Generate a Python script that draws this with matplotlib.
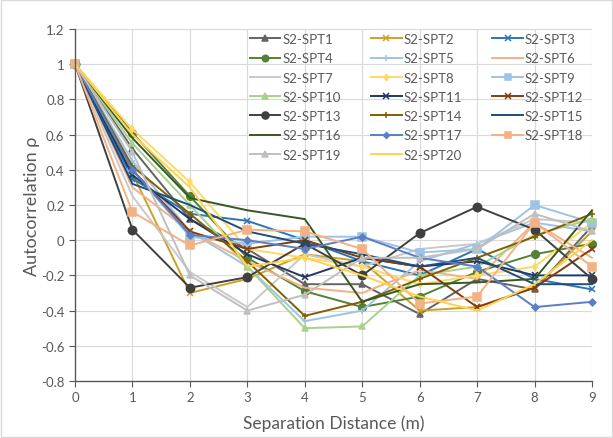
import matplotlib
matplotlib.use("Agg")
import matplotlib.pyplot as plt
from matplotlib.ticker import FuncFormatter, MultipleLocator
from matplotlib.patches import Rectangle

distance = [0, 1, 2, 3, 4, 5, 6, 7, 8, 9]
names = [f"S2-SPT{i}" for i in range(1, 21)]

spt1 = [1, 0.52, 0.12, -0.05, -0.25, -0.25, -0.42, -0.22, -0.28, 0.08]
spt2 = [1, 0.38, -0.30, -0.22, -0.08, -0.12, -0.40, -0.38, -0.27, 0.05]
spt3 = [1, 0.35, 0.15, 0.11, 0.00, -0.12, -0.20, -0.05, -0.22, -0.28]
spt4 = [1, 0.61, 0.25, -0.10, -0.29, -0.38, -0.32, -0.18, -0.08, -0.02]
spt5 = [1, 0.45, 0.05, -0.15, -0.46, -0.40, -0.12, -0.02, 0.10, 0.05]
spt6 = [1, 0.30, 0.05, -0.12, -0.27, -0.30, -0.17, -0.22, 0.10, -0.10]
spt7 = [1, 0.25, -0.18, -0.38, -0.08, -0.15, -0.05, -0.02, 0.12, 0.10]
spt8 = [1, 0.63, 0.33, -0.05, -0.10, -0.15, -0.25, -0.20, -0.15, 0.10]
spt9 = [1, 0.40, 0.02, -0.02, 0.02, 0.02, -0.07, -0.05, 0.20, 0.10]
spt10 = [1, 0.55, 0.20, -0.15, -0.50, -0.49, -0.20, -0.15, 0.03, 0.12]
spt11 = [1, 0.37, 0.12, -0.08, -0.21, -0.10, -0.15, -0.12, -0.20, -0.20]
spt12 = [1, 0.40, 0.05, -0.05, 0.00, -0.10, -0.15, -0.38, -0.27, -0.05]
spt13 = [1, 0.06, -0.27, -0.21, -0.02, -0.20, 0.04, 0.19, 0.06, -0.22]
spt14 = [1, 0.42, 0.15, -0.12, -0.43, -0.35, -0.22, -0.10, 0.02, 0.15]
spt15 = [1, 0.32, 0.20, 0.05, -0.02, -0.08, -0.15, -0.10, -0.25, -0.25]
spt16 = [1, 0.58, 0.24, 0.17, 0.12, -0.35, -0.25, -0.24, -0.22, 0.17]
spt17 = [1, 0.40, 0.03, 0.00, -0.05, 0.02, -0.10, -0.15, -0.38, -0.35]
spt18 = [1, 0.16, -0.03, 0.06, 0.05, -0.05, -0.36, -0.32, 0.10, -0.15]
spt19 = [1, 0.50, -0.20, -0.40, -0.31, -0.10, -0.10, -0.05, 0.15, 0.05]
spt20 = [1, 0.60, 0.30, -0.15, -0.10, -0.20, -0.32, -0.40, -0.25, 0.00]

series = [spt1, spt2, spt3, spt4, spt5, spt6, spt7, spt8, spt9, spt10,
          spt11, spt12, spt13, spt14, spt15, spt16, spt17, spt18, spt19, spt20]

colors = ["#636363", "#C9A227", "#2E75B6", "#548235", "#9DC3E6",
          "#F4B183", "#C9C9C9", "#FFD966", "#9DC3E6", "#A9D18E",
          "#203864", "#843C0C", "#404040", "#7F6000", "#1F4E79",
          "#385723", "#5B7FC4", "#F4B183", "#BFBFBF", "#FFD34D"]
markers = ["^", "x", "x", "o", "+", None, None, "d", "s", "^",
           "x", "x", "o", "+", None, None, "D", "s", "^", None]
msizes = [4.5, 5, 5, 5.5, 5, 0, 0, 4, 5.5, 4.5, 5, 5, 6, 5, 0, 0, 3.5, 5.5, 4.5, 0]

plt.rcParams["font.family"] = ["Lato", "DejaVu Sans"]

fig = plt.figure(figsize=(6.13, 4.39), dpi=100)
ax = fig.add_axes([75/613, 1-382/439, (592-75)/613, (382-30)/439])

handles = []
for vals, c, m, ms, n in zip(series, colors, markers, msizes, names):
    h, = ax.plot(distance, vals, color=c, lw=1.4, marker=m, ms=ms,
                 mew=1.1, label=n, clip_on=False)
    handles.append(h)

ax.set_xlim(0, 9)
ax.set_ylim(-0.8, 1.2)
ax.xaxis.set_major_locator(MultipleLocator(1))
ax.yaxis.set_major_locator(MultipleLocator(0.2))
ax.yaxis.set_major_formatter(FuncFormatter(lambda v, p: f"{round(v, 1):g}"))
ax.grid(True, color="#D9D9D9", lw=0.8)
ax.set_axisbelow(True)
for s in ["top", "right"]:
    ax.spines[s].set_visible(False)
for s in ["left", "bottom"]:
    ax.spines[s].set_color("#595959")
    ax.spines[s].set_linewidth(1.0)
ax.tick_params(axis="both", colors="#595959", labelsize=9.5, length=4,
               direction="out")
ax.set_xlabel("Separation Distance (m)", fontsize=12.5, color="#595959",
              labelpad=8)
ax.set_ylabel("Autocorrelation ρ", fontsize=13, color="#595959",
              labelpad=1)

order = []
for col in range(3):
    order += list(range(col, 20, 3))
leg = fig.legend([handles[i] for i in order], [names[i] for i in order],
                 ncol=3, loc="upper left", bbox_to_anchor=(250/613, 1-34/439),
                 frameon=False, fontsize=9.5, handlelength=2.3,
                 handletextpad=0.15, columnspacing=2.3, labelspacing=0.55,
                 borderpad=0, borderaxespad=0, markerscale=0.85)
for t in leg.get_texts():
    t.set_color("#595959")

fig.patches.append(Rectangle((0.002, 0.002), 0.996, 0.996,
                             transform=fig.transFigure, fill=False,
                             edgecolor="#D9D9D9", lw=1))

fig.savefig("out.png", dpi=100)
